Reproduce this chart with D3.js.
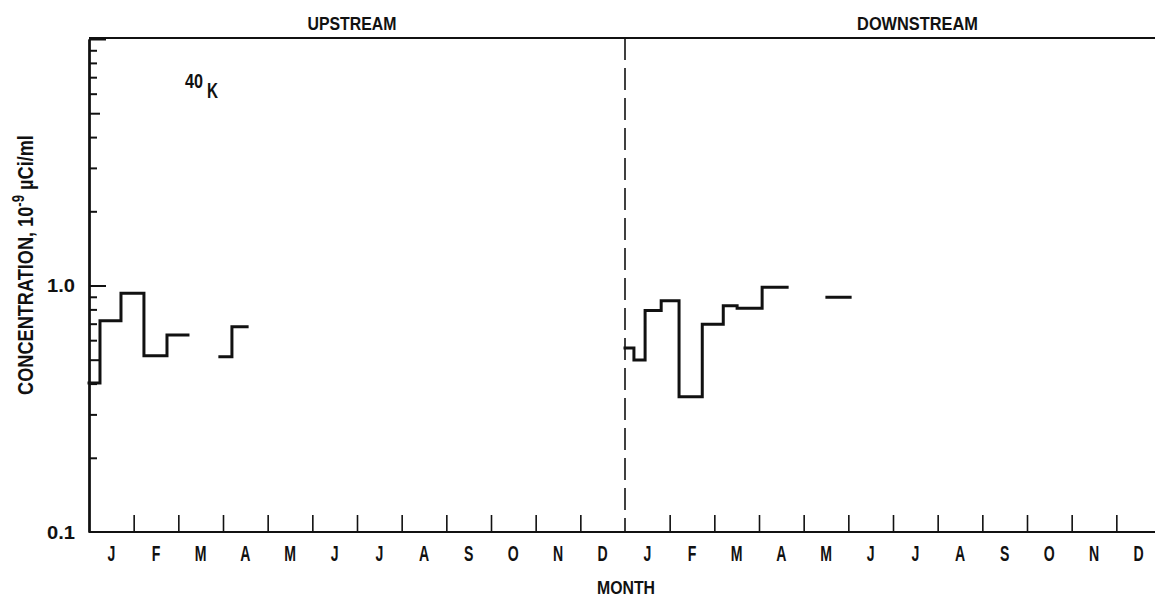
<!DOCTYPE html>
<html>
<head>
<meta charset="utf-8">
<script src="https://cdn.jsdelivr.net/npm/d3@7"></script>
<style>
  html, body { margin: 0; padding: 0; background: #fff; }
  svg { display: block; }
  text { font-family: "Liberation Sans", Arial, sans-serif; font-weight: bold; fill: #111; }
</style>
</head>
<body>
<svg id="chart" width="1155" height="600"></svg>
<script>
// ---- data ----
const monthLabels = ["J","F","M","A","M","J","J","A","S","O","N","D"];
const panelTitles = ["UPSTREAM","DOWNSTREAM"];
const yTickValues = [0.1, 1];
const yTickLabels = ["0.1","1.0"];
// step segments, x in months from start of upstream January (0..24)
const upStart = [0, 0.246, 0.716, 1.23, 1.746, 2.93, 3.2];
const upEnd   = [0.246, 0.716, 1.23, 1.746, 2.216, 3.2, 3.54];
const upValue = [0.402, 0.720, 0.930, 0.519, 0.630, 0.514, 0.681];
const downStart = [12, 12.2, 12.45, 12.81, 13.21, 13.73, 14.2, 14.51, 15.07, 16.52];
const downEnd   = [12.2, 12.45, 12.81, 13.21, 13.73, 14.2, 14.51, 15.07, 15.63, 17.04];
const downValue = [0.558, 0.499, 0.791, 0.868, 0.354, 0.696, 0.828, 0.808, 0.983, 0.896];

// ---- layout ----
const svg = d3.select("#chart");
const L = 89, T = 38, B = 532, R = 1155;
const x = d3.scaleLinear().domain([0, 24]).range([L, 1161]);
const y = d3.scaleLog().domain([0.1, 10]).range([B, 39]);

function fit(sel, w) {
  const n = sel.node();
  const len = n.getComputedTextLength();
  return len > 0 ? w / len : 1;
}
function label(txt, cx, by, size, width, anchor) {
  const t = svg.append("text").attr("font-size", size).attr("text-anchor", anchor || "middle").text(txt);
  const s = width ? fit(t, width) : 1;
  t.attr("transform", `translate(${cx},${by}) scale(${s},1)`);
  return t;
}

// frame lines
svg.append("line").attr("x1", L).attr("x2", R).attr("y1", T).attr("y2", T)
  .attr("stroke", "#111").attr("stroke-width", 2);

// y axis (ticks point inward)
const minor = [];
[0.1, 1].forEach(d => { for (let k = 2; k <= 9; k++) if (k !== 5) minor.push(d * k); });
const yMinor = svg.append("g").attr("transform", `translate(${L},0)`)
  .call(d3.axisRight(y).tickValues(minor).tickSize(8).tickSizeOuter(0).tickFormat(""));
const yMid = svg.append("g").attr("transform", `translate(${L},0)`)
  .call(d3.axisRight(y).tickValues([0.5, 5]).tickSize(11).tickSizeOuter(0).tickFormat(""));
const yMajor = svg.append("g").attr("transform", `translate(${L},0)`)
  .call(d3.axisRight(y).tickValues([1, 10]).tickSize(17).tickSizeOuter(0).tickFormat(""));
[yMinor, yMid, yMajor].forEach(g => {
  g.selectAll("path").attr("stroke", "#111").attr("stroke-width", 2);
  g.selectAll("line").attr("stroke", "#111").attr("stroke-width", 2);
});

// y tick labels
yTickValues.forEach((v, i) => {
  label(yTickLabels[i], 75, y(v) + 6.5, 18, 28, "end");
});

// x axis
const bounds = d3.range(1, 24).filter(d => d !== 12);
const xAx = svg.append("g").attr("transform", `translate(0,${B})`)
  .call(d3.axisTop(x).tickValues(bounds).tickSize(17).tickSizeOuter(0).tickFormat(""));
xAx.select("path").remove();
xAx.selectAll("line").attr("stroke", "#111").attr("stroke-width", 1.6);
svg.append("line").attr("x1", L).attr("x2", R).attr("y1", B).attr("y2", B)
  .attr("stroke", "#111").attr("stroke-width", 2);

// dashed divider between panels
svg.append("line").attr("x1", x(12)).attr("x2", x(12)).attr("y1", T).attr("y2", B)
  .attr("stroke", "#111").attr("stroke-width", 1.6).attr("stroke-dasharray", "22,8");

// month labels
for (let p = 0; p < 2; p++) {
  monthLabels.forEach((m, i) => {
    const t = svg.append("text").attr("font-size", 22).attr("text-anchor", "middle").text(m);
    t.attr("transform", `translate(${x(p * 12 + i + 0.5)},561) scale(0.64,1)`);
  });
}

// titles
label(panelTitles[0], 352, 30, 19, 89);
label(panelTitles[1], 917.5, 30, 19, 121);
label("MONTH", 626, 594, 19, 58);

// y axis title
const yt = svg.append("text").attr("font-size", 22).attr("text-anchor", "middle");
yt.append("tspan").text("CONCENTRATION, 10");
yt.append("tspan").attr("dy", -9).attr("font-size", 16).text("-9");
yt.append("tspan").attr("dy", 9).text(" \u00b5Ci/ml");
const ys = fit(yt, 260);
yt.attr("transform", `translate(33,265) rotate(-90) scale(${ys},1)`);

// isotope label
const iso = svg.append("g");
const t40 = iso.append("text").attr("font-size", 20).text("40");
t40.attr("transform", `translate(185,88) scale(${fit(t40, 18)},1)`);
const tK = iso.append("text").attr("font-size", 22).text("K");
tK.attr("transform", `translate(207,98) scale(${fit(tK, 11)},1)`);

// step lines
function runs(starts, ends, vals) {
  const out = [];
  let cur = null;
  starts.forEach((s, i) => {
    if (!cur || Math.abs(s - ends[i - 1]) > 1e-6) { cur = []; out.push(cur); }
    cur.push([s, vals[i]], [ends[i], vals[i]]);
  });
  return out;
}
const line = d3.line().x(d => x(d[0])).y(d => y(d[1]));
const allRuns = runs(upStart, upEnd, upValue).concat(runs(downStart, downEnd, downValue));
svg.append("g").selectAll("path").data(allRuns).join("path")
  .attr("d", line).attr("fill", "none").attr("stroke", "#111")
  .attr("stroke-width", 3).attr("stroke-linejoin", "miter").attr("stroke-linecap", "square");
</script>
</body>
</html>
